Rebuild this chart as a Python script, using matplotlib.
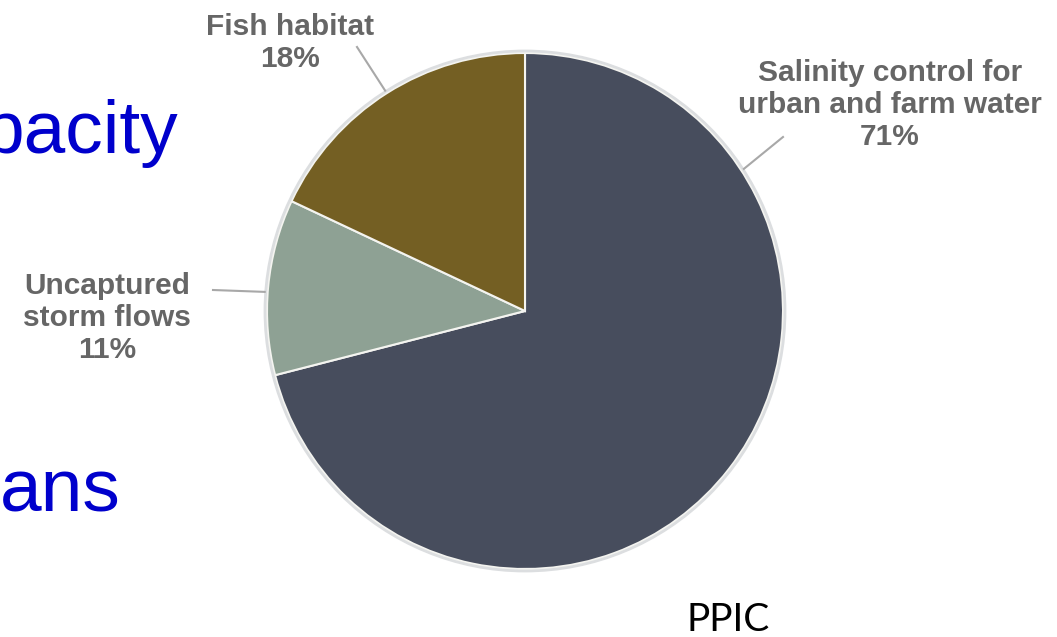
import numpy as np
import matplotlib
matplotlib.use("Agg")
import matplotlib.pyplot as plt

# slice data, clockwise from 12 o'clock
labels = ["Salinity control for\nurban and farm water", "Uncaptured\nstorm flows", "Fish habitat"]
shares = [71, 11, 18]
colors = ["#474d5d", "#8ea194", "#745f23"]

W, H = 1057, 637
fig = plt.figure(figsize=(W / 100, H / 100), dpi=100)
ax = fig.add_axes([0, 0, 1, 1])

cx, cy, r = 525, H - 311, 258
ax.pie(shares, colors=colors, startangle=90, counterclock=False,
       center=(cx, cy), radius=r, frame=True,
       wedgeprops=dict(edgecolor="#f4f4f0", linewidth=1.5))
# faint rim around the pie
rim = plt.Circle((cx, cy), r + 2, fill=False, ec="#dcdee0", lw=2)
ax.add_patch(rim)
ax.set_xlim(0, W)
ax.set_ylim(0, H)
ax.set_aspect("auto")
ax.axis("off")

# label text position, leader start, leader angle on the pie
label_font = dict(family=["Liberation Sans", "DejaVu Sans"], fontsize=21.5,
                  color="#666666", fontweight="bold", ha="center",
                  va="center", linespacing=1.2)
layout = [
    ((890, 105), (783, 137), 33.0),
    ((107, 318), (213, 290), 175.8),
    ((290, 43), (357, 47), 122.4),
]
for lab, pct, (tpos, lstart, ang) in zip(labels, shares, layout):
    ax.text(tpos[0], H - tpos[1], f"{lab}\n{pct}%", **label_font)
    a = np.radians(ang)
    ax.plot([lstart[0], cx + (r + 3) * np.cos(a)],
            [H - lstart[1], cy + (r + 3) * np.sin(a)],
            color="#a8a8a8", lw=1.5)

# slide text around the chart
blue = "#0000cc"
fig.text(178 / W, 1 - 153 / H, "pacity", ha="right", va="baseline",
         fontsize=54, color=blue, family="Liberation Sans")
fig.text(0 / W, 1 - 512 / H, "ans", ha="left", va="baseline",
         fontsize=54, color=blue, family="Liberation Sans")
fig.text(728 / W, 1 - 631 / H, "PPIC", ha="center", va="baseline",
         fontsize=28, color="black", family="Lato")

fig.savefig("out.png", dpi=100)
